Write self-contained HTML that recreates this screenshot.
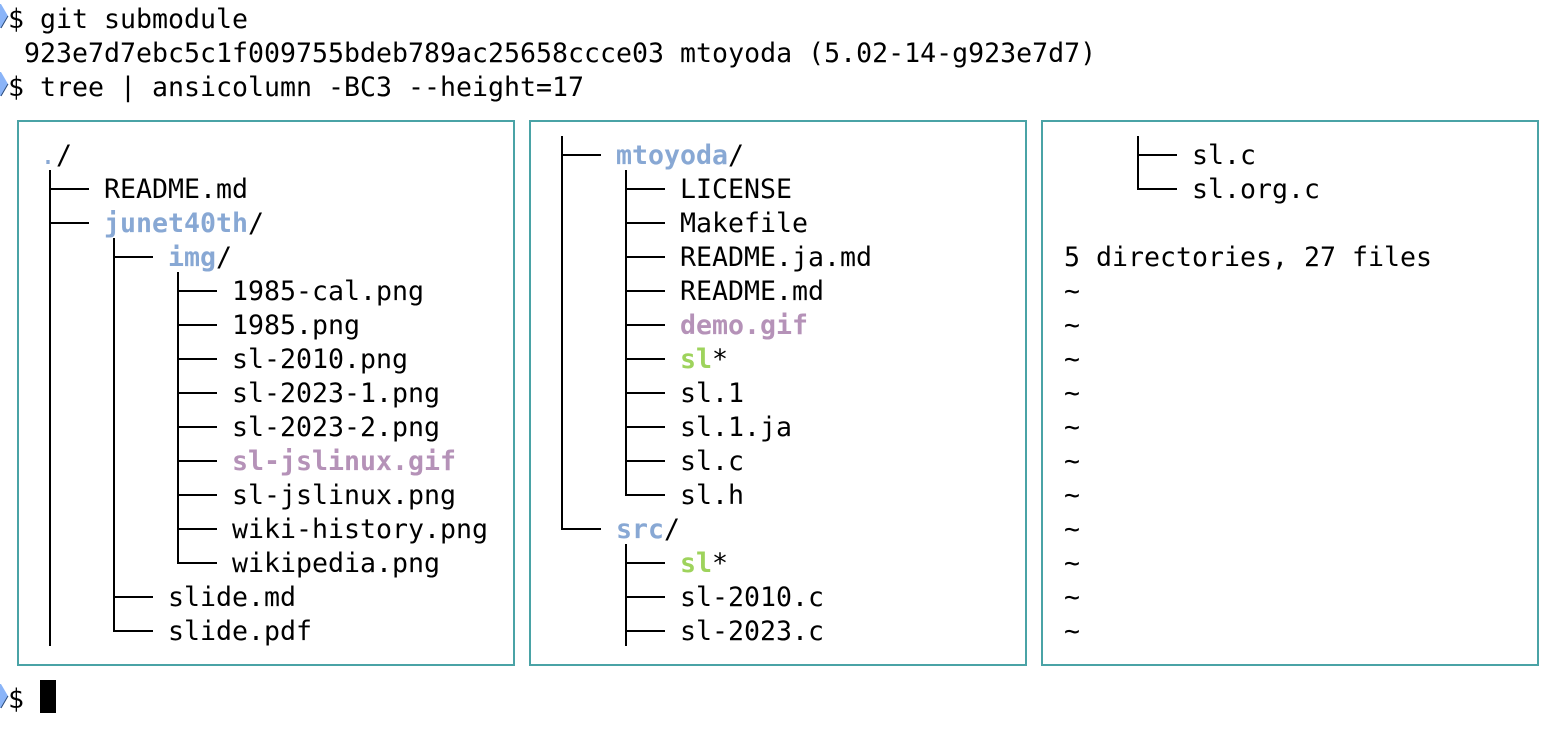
<!DOCTYPE html>
<html>
<head>
<meta charset="utf-8">
<style>
html,body{margin:0;padding:0;background:#fff;}
body{width:1562px;height:742px;position:relative;overflow:hidden;
font-family:"DejaVu Sans Mono","Liberation Mono",monospace;font-size:26.58px;color:#000;}
.l{position:absolute;white-space:pre;line-height:34px;height:34px;}
.box{position:absolute;top:120px;width:494px;height:542px;border:2px solid #4aa3a6;}
.d{color:#88a8d4;font-weight:bold;}
.p{color:#b592b8;font-weight:bold;}
.g{color:#9ed35c;font-weight:bold;}
.dot{color:#88a8d4;}
svg{position:absolute;left:0;top:0;}
</style>
</head>
<body>
<div class="box" style="left:17px"></div>
<div class="box" style="left:529px"></div>
<div class="box" style="left:1041px"></div>

<svg width="1562" height="742">
<g fill="#8ab4f8">
<polygon points="0,4 1,4 8,16 1,28 0,28"/>
<polygon points="0,72 1,72 8,84 1,96 0,96"/>
<polygon points="0,684 1,684 8,696 1,708 0,708"/>
</g>
<g stroke="#2a4a7a" stroke-width="1" fill="none">
<line x1="1" y1="28" x2="8" y2="16"/>
<line x1="1" y1="96" x2="8" y2="84"/>
<line x1="1" y1="708" x2="8" y2="696"/>
</g>
<rect x="40" y="680" width="16" height="33" fill="#000"/>
<g fill="#000">
<!-- Box1 -->
<rect x="49" y="170" width="2" height="476"/>
<rect x="49" y="188" width="40" height="2"/>
<rect x="49" y="222" width="40" height="2"/>
<rect x="113" y="238" width="2" height="394"/>
<rect x="113" y="256" width="40" height="2"/>
<rect x="113" y="596" width="40" height="2"/>
<rect x="113" y="630" width="40" height="2"/>
<rect x="177" y="272" width="2" height="292"/>
<rect x="177" y="290" width="40" height="2"/>
<rect x="177" y="324" width="40" height="2"/>
<rect x="177" y="358" width="40" height="2"/>
<rect x="177" y="392" width="40" height="2"/>
<rect x="177" y="426" width="40" height="2"/>
<rect x="177" y="460" width="40" height="2"/>
<rect x="177" y="494" width="40" height="2"/>
<rect x="177" y="528" width="40" height="2"/>
<rect x="177" y="562" width="40" height="2"/>
<!-- Box2 -->
<rect x="561" y="136" width="2" height="394"/>
<rect x="561" y="154" width="40" height="2"/>
<rect x="561" y="528" width="40" height="2"/>
<rect x="625" y="170" width="2" height="326"/>
<rect x="625" y="188" width="40" height="2"/>
<rect x="625" y="222" width="40" height="2"/>
<rect x="625" y="256" width="40" height="2"/>
<rect x="625" y="290" width="40" height="2"/>
<rect x="625" y="324" width="40" height="2"/>
<rect x="625" y="358" width="40" height="2"/>
<rect x="625" y="392" width="40" height="2"/>
<rect x="625" y="426" width="40" height="2"/>
<rect x="625" y="460" width="40" height="2"/>
<rect x="625" y="494" width="40" height="2"/>
<rect x="625" y="544" width="2" height="102"/>
<rect x="625" y="562" width="40" height="2"/>
<rect x="625" y="596" width="40" height="2"/>
<rect x="625" y="630" width="40" height="2"/>
<!-- Box3 -->
<rect x="1137" y="136" width="2" height="54"/>
<rect x="1137" y="154" width="40" height="2"/>
<rect x="1137" y="188" width="40" height="2"/>
</g>
</svg>

<div class="l" style="left:8px;top:3px">$ git submodule</div>
<div class="l" style="left:8px;top:37px"> 923e7d7ebc5c1f009755bdeb789ac25658ccce03 mtoyoda (5.02-14-g923e7d7)</div>
<div class="l" style="left:8px;top:71px">$ tree | ansicolumn -BC3 --height=17</div>
<div class="l" style="left:8px;top:683px">$</div>

<!-- Box1 text -->
<div class="l" style="left:40px;top:139px"><span class="dot">.</span>/</div>
<div class="l" style="left:104px;top:173px">README.md</div>
<div class="l" style="left:104px;top:207px"><span class="d">junet40th</span>/</div>
<div class="l" style="left:168px;top:241px"><span class="d">img</span>/</div>
<div class="l" style="left:232px;top:275px">1985-cal.png</div>
<div class="l" style="left:232px;top:309px">1985.png</div>
<div class="l" style="left:232px;top:343px">sl-2010.png</div>
<div class="l" style="left:232px;top:377px">sl-2023-1.png</div>
<div class="l" style="left:232px;top:411px">sl-2023-2.png</div>
<div class="l" style="left:232px;top:445px"><span class="p">sl-jslinux.gif</span></div>
<div class="l" style="left:232px;top:479px">sl-jslinux.png</div>
<div class="l" style="left:232px;top:513px">wiki-history.png</div>
<div class="l" style="left:232px;top:547px">wikipedia.png</div>
<div class="l" style="left:168px;top:581px">slide.md</div>
<div class="l" style="left:168px;top:615px">slide.pdf</div>

<!-- Box2 text -->
<div class="l" style="left:616px;top:139px"><span class="d">mtoyoda</span>/</div>
<div class="l" style="left:680px;top:173px">LICENSE</div>
<div class="l" style="left:680px;top:207px">Makefile</div>
<div class="l" style="left:680px;top:241px">README.ja.md</div>
<div class="l" style="left:680px;top:275px">README.md</div>
<div class="l" style="left:680px;top:309px"><span class="p">demo.gif</span></div>
<div class="l" style="left:680px;top:343px"><span class="g">sl</span>*</div>
<div class="l" style="left:680px;top:377px">sl.1</div>
<div class="l" style="left:680px;top:411px">sl.1.ja</div>
<div class="l" style="left:680px;top:445px">sl.c</div>
<div class="l" style="left:680px;top:479px">sl.h</div>
<div class="l" style="left:616px;top:513px"><span class="d">src</span>/</div>
<div class="l" style="left:680px;top:547px"><span class="g">sl</span>*</div>
<div class="l" style="left:680px;top:581px">sl-2010.c</div>
<div class="l" style="left:680px;top:615px">sl-2023.c</div>

<!-- Box3 text -->
<div class="l" style="left:1192px;top:139px">sl.c</div>
<div class="l" style="left:1192px;top:173px">sl.org.c</div>
<div class="l" style="left:1064px;top:241px">5 directories, 27 files</div>
<div class="l" style="left:1064px;top:275px">~</div>
<div class="l" style="left:1064px;top:309px">~</div>
<div class="l" style="left:1064px;top:343px">~</div>
<div class="l" style="left:1064px;top:377px">~</div>
<div class="l" style="left:1064px;top:411px">~</div>
<div class="l" style="left:1064px;top:445px">~</div>
<div class="l" style="left:1064px;top:479px">~</div>
<div class="l" style="left:1064px;top:513px">~</div>
<div class="l" style="left:1064px;top:547px">~</div>
<div class="l" style="left:1064px;top:581px">~</div>
<div class="l" style="left:1064px;top:615px">~</div>
</body>
</html>
